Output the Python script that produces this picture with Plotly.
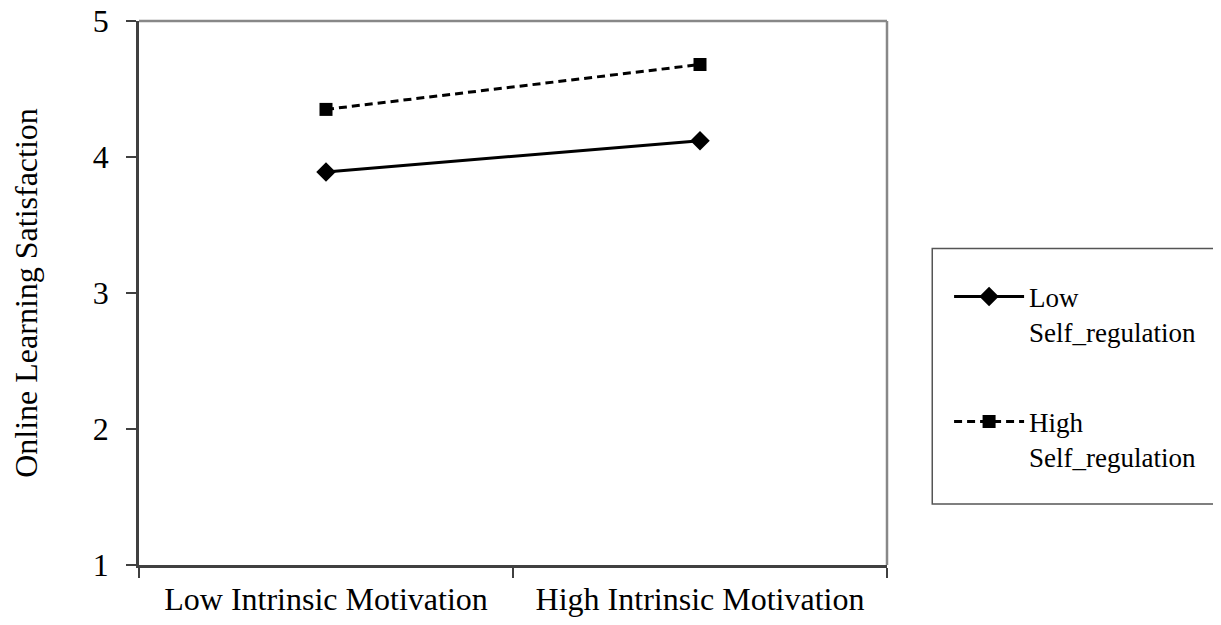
import plotly.graph_objects as go

categories = ["Low Intrinsic Motivation", "High Intrinsic Motivation"]
low_sr = [3.89, 4.12]
high_sr = [4.35, 4.68]
series_names = ["Low<br>Self_regulation", "High<br>Self_regulation"]
y_ticks = [1, 2, 3, 4, 5]

FONT = "Liberation Serif, Times New Roman, serif"

fig = go.Figure()
fig.add_trace(go.Scatter(
    x=categories, y=low_sr, name=series_names[0], mode="lines+markers",
    line=dict(color="black", width=3),
    marker=dict(symbol="diamond", size=15, color="black"),
    legendgroup="a",
))
fig.add_trace(go.Scatter(
    x=categories, y=high_sr, name=series_names[1], mode="lines+markers",
    line=dict(color="black", width=3, dash="8px,5px"),
    marker=dict(symbol="square", size=13, color="black"),
    legendgroup="b",
))

# grey frame on top/right
fig.add_shape(type="line", xref="paper", yref="paper", x0=0, x1=1, y0=1, y1=1,
              line=dict(color="#888888", width=2.5))
fig.add_shape(type="line", xref="paper", yref="paper", x0=1, x1=1, y0=0, y1=1,
              line=dict(color="#888888", width=2.5))
# legend frame
fig.add_shape(type="rect", xref="paper", yref="paper",
              x0=1.0605, x1=1.4415, y0=0.112, y1=0.582,
              line=dict(color="#555555", width=1.5))

fig.update_layout(
    width=1221, height=625,
    margin=dict(l=130.5, r=342.3, t=12.5, b=68),
    paper_bgcolor="white", plot_bgcolor="white",
    font=dict(family=FONT, size=32, color="black"),
    showlegend=True,
    legend=dict(
        x=1.083, y=0.538, xanchor="left", yanchor="top",
        font=dict(family=FONT, size=27, color="black"),
        itemwidth=70, valign="top",
        traceorder="grouped", tracegroupgap=52,
        bgcolor="rgba(0,0,0,0)", borderwidth=0,
    ),
    xaxis=dict(
        type="category", range=[-0.5, 1.5], automargin=False,
        showline=True, linecolor="#404040", linewidth=2.5,
        ticks="outside", ticklen=10, tickwidth=1.5, tickcolor="#404040",
        tickson="boundaries", showgrid=False, zeroline=False,
        ticklabelstandoff=4, ticklabeloverflow="allow",
        tickfont=dict(family=FONT, size=32, color="black"),
    ),
    yaxis=dict(
        range=[1, 5], tickvals=y_ticks, automargin=False,
        showline=True, linecolor="#404040", linewidth=2.5,
        ticks="outside", ticklen=10, tickwidth=1.5, tickcolor="#404040",
        showgrid=False, zeroline=False,
        ticklabelstandoff=11, ticklabeloverflow="allow",
        tickfont=dict(family=FONT, size=32, color="black"),
        title=dict(text="Online Learning Satisfaction",
                   font=dict(family=FONT, size=32, color="black"), standoff=57),
    ),
)

fig.write_html("out.html")
